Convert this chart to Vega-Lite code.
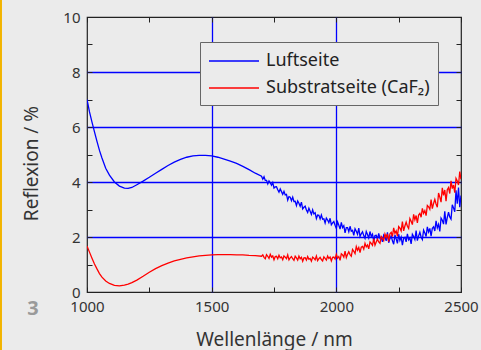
{
  "$schema": "https://vega.github.io/schema/vega-lite/v6.json",
  "width": 374,
  "height": 275,
  "autosize": {"type": "none"},
  "padding": {"left": 87, "top": 17, "right": 20, "bottom": 58},
  "background": "#ebebeb",
  "config": {
    "font": "Noto Sans",
    "view": {"stroke": "#222222", "strokeWidth": 1.2},
    "axis": {"domain": false, "labelFont": "Noto Sans", "titleFont": "Noto Sans", "labelColor": "#333333", "titleColor": "#333333", "tickColor": "#222222", "tickSize": -5, "tickWidth": 1}
  },
  "datasets": {
    "curve": [
      {"w":1000,"L":7.0,"S":1.67},{"w":1010,"L":6.55,"S":1.45},{"w":1020,"L":6.18,"S":1.23},{"w":1030,"L":5.82,"S":1.02},{"w":1040,"L":5.48,"S":0.84},{"w":1050,"L":5.15,"S":0.67},{"w":1060,"L":4.87,"S":0.54},{"w":1075,"L":4.5,"S":0.40},{"w":1090,"L":4.25,"S":0.31},{"w":1110,"L":4.0,"S":0.24},{"w":1130,"L":3.85,"S":0.22},{"w":1150,"L":3.78,"S":0.25},{"w":1165,"L":3.77,"S":0.29},{"w":1180,"L":3.8,"S":0.34},{"w":1200,"L":3.9,"S":0.43},{"w":1225,"L":4.03,"S":0.57},{"w":1250,"L":4.17,"S":0.72},{"w":1275,"L":4.32,"S":0.85},{"w":1300,"L":4.46,"S":0.96},{"w":1325,"L":4.6,"S":1.05},{"w":1350,"L":4.72,"S":1.13},{"w":1375,"L":4.82,"S":1.19},{"w":1400,"L":4.9,"S":1.24},{"w":1425,"L":4.95,"S":1.28},{"w":1450,"L":4.97,"S":1.31},{"w":1475,"L":4.97,"S":1.33},{"w":1500,"L":4.95,"S":1.35},{"w":1525,"L":4.9,"S":1.36},{"w":1550,"L":4.83,"S":1.36},{"w":1575,"L":4.76,"S":1.36},{"w":1600,"L":4.68,"S":1.35},{"w":1625,"L":4.57,"S":1.35},{"w":1650,"L":4.45,"S":1.33},{"w":1675,"L":4.32,"S":1.32},
      {"w":1700,"L":4.21,"S":1.30},{"w":1705,"L":4.10,"S":1.35},{"w":1710,"L":4.19,"S":1.26},{"w":1715,"L":4.06,"S":1.21},{"w":1720,"L":4.06,"S":1.36},{"w":1725,"L":3.93,"S":1.30},{"w":1730,"L":4.04,"S":1.22},{"w":1735,"L":3.97,"S":1.37},{"w":1740,"L":3.88,"S":1.27},{"w":1745,"L":3.98,"S":1.31},
      {"w":1750,"L":3.78,"S":1.17},{"w":1755,"L":3.82,"S":1.29},{"w":1760,"L":3.83,"S":1.30},{"w":1765,"L":3.72,"S":1.21},{"w":1770,"L":3.63,"S":1.34},{"w":1775,"L":3.75,"S":1.24},{"w":1780,"L":3.65,"S":1.27},{"w":1785,"L":3.55,"S":1.17},{"w":1790,"L":3.66,"S":1.31},{"w":1795,"L":3.53,"S":1.27},
      {"w":1800,"L":3.55,"S":1.21},{"w":1805,"L":3.34,"S":1.35},{"w":1810,"L":3.47,"S":1.17},{"w":1815,"L":3.45,"S":1.24},{"w":1820,"L":3.32,"S":1.29},{"w":1825,"L":3.45,"S":1.21},{"w":1830,"L":3.29,"S":1.15},{"w":1835,"L":3.30,"S":1.30},{"w":1840,"L":3.14,"S":1.24},{"w":1845,"L":3.31,"S":1.16},
      {"w":1850,"L":3.23,"S":1.31},{"w":1855,"L":3.12,"S":1.21},{"w":1860,"L":3.27,"S":1.26},{"w":1865,"L":3.02,"S":1.12},{"w":1870,"L":3.08,"S":1.24},{"w":1875,"L":3.12,"S":1.25},{"w":1880,"L":2.98,"S":1.16},{"w":1885,"L":2.89,"S":1.29},{"w":1890,"L":3.05,"S":1.19},{"w":1895,"L":2.94,"S":1.22},
      {"w":1900,"L":2.82,"S":1.12},{"w":1905,"L":2.99,"S":1.27},{"w":1910,"L":2.84,"S":1.23},{"w":1915,"L":2.88,"S":1.17},{"w":1920,"L":2.67,"S":1.31},{"w":1925,"L":2.80,"S":1.14},{"w":1930,"L":2.79,"S":1.21},{"w":1935,"L":2.66,"S":1.26},{"w":1940,"L":2.80,"S":1.18},{"w":1945,"L":2.65,"S":1.13},
      {"w":1950,"L":2.66,"S":1.28},{"w":1955,"L":2.51,"S":1.22},{"w":1960,"L":2.69,"S":1.16},{"w":1965,"L":2.62,"S":1.31},{"w":1970,"L":2.52,"S":1.22},{"w":1975,"L":2.68,"S":1.27},{"w":1980,"L":2.44,"S":1.13},{"w":1985,"L":2.51,"S":1.26},{"w":1990,"L":2.56,"S":1.27},{"w":1995,"L":2.43,"S":1.20},
      {"w":2000,"L":2.31,"S":1.37},{"w":2005,"L":2.55,"S":1.23},{"w":2010,"L":2.43,"S":1.29},{"w":2015,"L":2.29,"S":1.15},{"w":2020,"L":2.53,"S":1.39},{"w":2025,"L":2.34,"S":1.35},{"w":2030,"L":2.41,"S":1.27},{"w":2035,"L":2.15,"S":1.49},{"w":2040,"L":2.34,"S":1.25},{"w":2045,"L":2.34,"S":1.37},
      {"w":2050,"L":2.19,"S":1.46},{"w":2055,"L":2.39,"S":1.36},{"w":2060,"L":2.21,"S":1.30},{"w":2065,"L":2.24,"S":1.55},{"w":2070,"L":2.06,"S":1.48},{"w":2075,"L":2.30,"S":1.40},{"w":2080,"L":2.21,"S":1.65},{"w":2085,"L":2.10,"S":1.52},{"w":2090,"L":2.32,"S":1.62},{"w":2095,"L":2.02,"S":1.43},
      {"w":2100,"L":2.12,"S":1.63},{"w":2105,"L":2.19,"S":1.66},{"w":2110,"L":2.05,"S":1.56},{"w":2115,"L":1.95,"S":1.77},{"w":2120,"L":2.20,"S":1.64},{"w":2125,"L":2.09,"S":1.71},{"w":2130,"L":1.96,"S":1.57},{"w":2135,"L":2.20,"S":1.82},{"w":2140,"L":2.02,"S":1.77},{"w":2145,"L":2.10,"S":1.70},
      {"w":2150,"L":1.85,"S":1.93},{"w":2155,"L":2.05,"S":1.70},{"w":2160,"L":2.06,"S":1.82},{"w":2165,"L":1.91,"S":1.92},{"w":2170,"L":2.13,"S":1.82},{"w":2175,"L":1.95,"S":1.77},{"w":2180,"L":1.99,"S":2.02},{"w":2185,"L":1.82,"S":1.95},{"w":2190,"L":2.07,"S":1.87},{"w":2195,"L":1.99,"S":2.11},
      {"w":2200,"L":1.86,"S":1.98},{"w":2205,"L":2.17,"S":2.11},{"w":2210,"L":1.79,"S":1.83},{"w":2215,"L":1.94,"S":2.12},{"w":2220,"L":2.04,"S":2.17},{"w":2225,"L":1.86,"S":2.02},{"w":2230,"L":1.74,"S":2.33},{"w":2235,"L":2.07,"S":2.13},{"w":2240,"L":1.93,"S":2.22},{"w":2245,"L":1.77,"S":2.03},
      {"w":2250,"L":2.10,"S":2.38},{"w":2255,"L":1.88,"S":2.32},{"w":2260,"L":2.00,"S":2.22},{"w":2265,"L":1.70,"S":2.56},{"w":2270,"L":1.96,"S":2.22},{"w":2275,"L":1.99,"S":2.40},{"w":2280,"L":1.82,"S":2.54},{"w":2285,"L":2.11,"S":2.39},{"w":2290,"L":1.90,"S":2.31},{"w":2295,"L":1.97,"S":2.67},
      {"w":2300,"L":1.75,"S":2.57},{"w":2305,"L":2.10,"S":2.45},{"w":2310,"L":2.02,"S":2.82},{"w":2315,"L":1.91,"S":2.63},{"w":2320,"L":2.23,"S":2.78},{"w":2325,"L":1.87,"S":2.51},{"w":2330,"L":2.04,"S":2.80},{"w":2335,"L":2.17,"S":2.86},{"w":2340,"L":2.00,"S":2.72},{"w":2345,"L":1.91,"S":3.04},
      {"w":2350,"L":2.25,"S":2.86},{"w":2355,"L":2.15,"S":2.96},{"w":2360,"L":2.02,"S":2.78},{"w":2365,"L":2.37,"S":3.15},{"w":2370,"L":2.18,"S":3.10},{"w":2375,"L":2.31,"S":3.01},{"w":2380,"L":2.03,"S":3.36},{"w":2385,"L":2.32,"S":3.03},{"w":2390,"L":2.37,"S":3.22},{"w":2395,"L":2.22,"S":3.37},
      {"w":2400,"L":2.59,"S":3.20},{"w":2405,"L":2.33,"S":3.08},{"w":2410,"L":2.46,"S":3.60},{"w":2415,"L":2.20,"S":3.45},{"w":2420,"L":2.69,"S":3.27},{"w":2425,"L":2.61,"S":3.79},{"w":2430,"L":2.47,"S":3.51},{"w":2435,"L":2.93,"S":3.71},{"w":2440,"L":2.46,"S":3.30},{"w":2445,"L":2.71,"S":3.72},
      {"w":2450,"L":2.90,"S":3.80},{"w":2455,"L":2.73,"S":3.58},{"w":2460,"L":2.65,"S":4.04},{"w":2465,"L":3.17,"S":3.76},{"w":2470,"L":3.06,"S":3.89},{"w":2475,"L":2.92,"S":3.61},{"w":2480,"L":3.70,"S":4.13},{"w":2485,"L":3.21,"S":4.04},{"w":2490,"L":3.80,"S":3.89},{"w":2495,"L":3.08,"S":4.38},{"w":2500,"L":3.51,"S":4.10}
    ],
    "label": [{"w": 783, "v": -0.6, "t": "3"}],
    "edge": [{"w": 653, "v": 10.7, "v2": -2.2}]
  },
  "layer": [
    {
      "data": {"name": "curve"},
      "transform": [{"fold": ["L", "S"], "as": ["series", "value"]}],
      "mark": {"type": "line", "strokeWidth": 1.3, "clip": true},
      "encoding": {
        "x": {
          "field": "w", "type": "quantitative",
          "scale": {"domain": [1000, 2500], "nice": false, "zero": false},
          "axis": {
            "orient": "bottom",
            "values": [1000, 1250, 1500, 1750, 2000, 2250, 2500],
            "format": "d",
            "labelExpr": "datum.value % 500 == 0 ? datum.label : ''",
            "labelFontSize": 15,
            "labelPadding": 12,
            "labelFlush": false,
            "title": "Wellenlänge / nm",
            "titleFontSize": 19,
            "titleFontWeight": "normal",
            "titlePadding": 16,
            "grid": true,
            "gridColor": "#0000ff",
            "gridWidth": 1.3,
            "gridOpacity": {"condition": {"test": "datum.value % 500 == 0 && datum.value > 1000 && datum.value < 2500", "value": 1}, "value": 0}
          }
        },
        "y": {
          "field": "value", "type": "quantitative",
          "scale": {"domain": [0, 10], "nice": false},
          "axis": {
            "orient": "left",
            "values": [0, 1, 2, 3, 4, 5, 6, 7, 8, 9, 10],
            "labelExpr": "datum.value % 2 == 0 ? datum.label : ''",
            "labelFontSize": 15,
            "labelPadding": 12,
            "labelFlush": false,
            "title": "Reflexion / %",
            "titleFontSize": 19,
            "titleFontWeight": "normal",
            "titlePadding": 21,
            "titleY": 146,
            "grid": true,
            "gridColor": "#0000ff",
            "gridWidth": 1.3,
            "gridOpacity": {"condition": {"test": "datum.value % 2 == 0 && datum.value > 0 && datum.value < 10", "value": 1}, "value": 0}
          }
        },
        "color": {
          "field": "series", "type": "nominal",
          "scale": {"domain": ["L", "S"], "range": ["#0000ff", "#ff0000"]},
          "legend": {
            "orient": "none",
            "legendX": 113,
            "legendY": 25,
            "title": null,
            "labelExpr": "datum.label == 'L' ? 'Luftseite' : 'Substratseite (CaF₂)'",
            "labelFontSize": 18,
            "labelColor": "#222222",
            "labelFont": "Noto Sans",
            "labelLimit": 400,
            "labelOffset": 36,
            "symbolType": "M-1,0H4",
            "symbolSize": 400,
            "symbolStrokeWidth": 1.5,
            "symbolFillColor": "transparent",
            "rowPadding": 7,
            "padding": 8,
            "strokeColor": "#666666",
            "fillColor": "#ebebeb"
          }
        }
      }
    },
    {
      "data": {"name": "label"},
      "mark": {"type": "text", "fontSize": 20, "fontWeight": "bold", "color": "#9a9a9a", "align": "center", "baseline": "middle"},
      "encoding": {
        "x": {"field": "w", "type": "quantitative", "axis": {"orient": "top", "values": [1000, 1250, 1500, 1750, 2000, 2250, 2500], "labels": false, "title": null, "grid": false}},
        "y": {"field": "v", "type": "quantitative", "axis": {"orient": "right", "values": [0, 1, 2, 3, 4, 5, 6, 7, 8, 9, 10], "labels": false, "title": null, "grid": false}},
        "text": {"field": "t"}
      }
    },
    {
      "data": {"name": "edge"},
      "mark": {"type": "rule", "color": "#f2b400", "strokeWidth": 3},
      "encoding": {
        "x": {"field": "w", "type": "quantitative", "axis": null},
        "y": {"field": "v", "type": "quantitative", "axis": null},
        "y2": {"field": "v2"}
      }
    }
  ],
  "resolve": {"axis": {"x": "independent", "y": "independent"}}
}
